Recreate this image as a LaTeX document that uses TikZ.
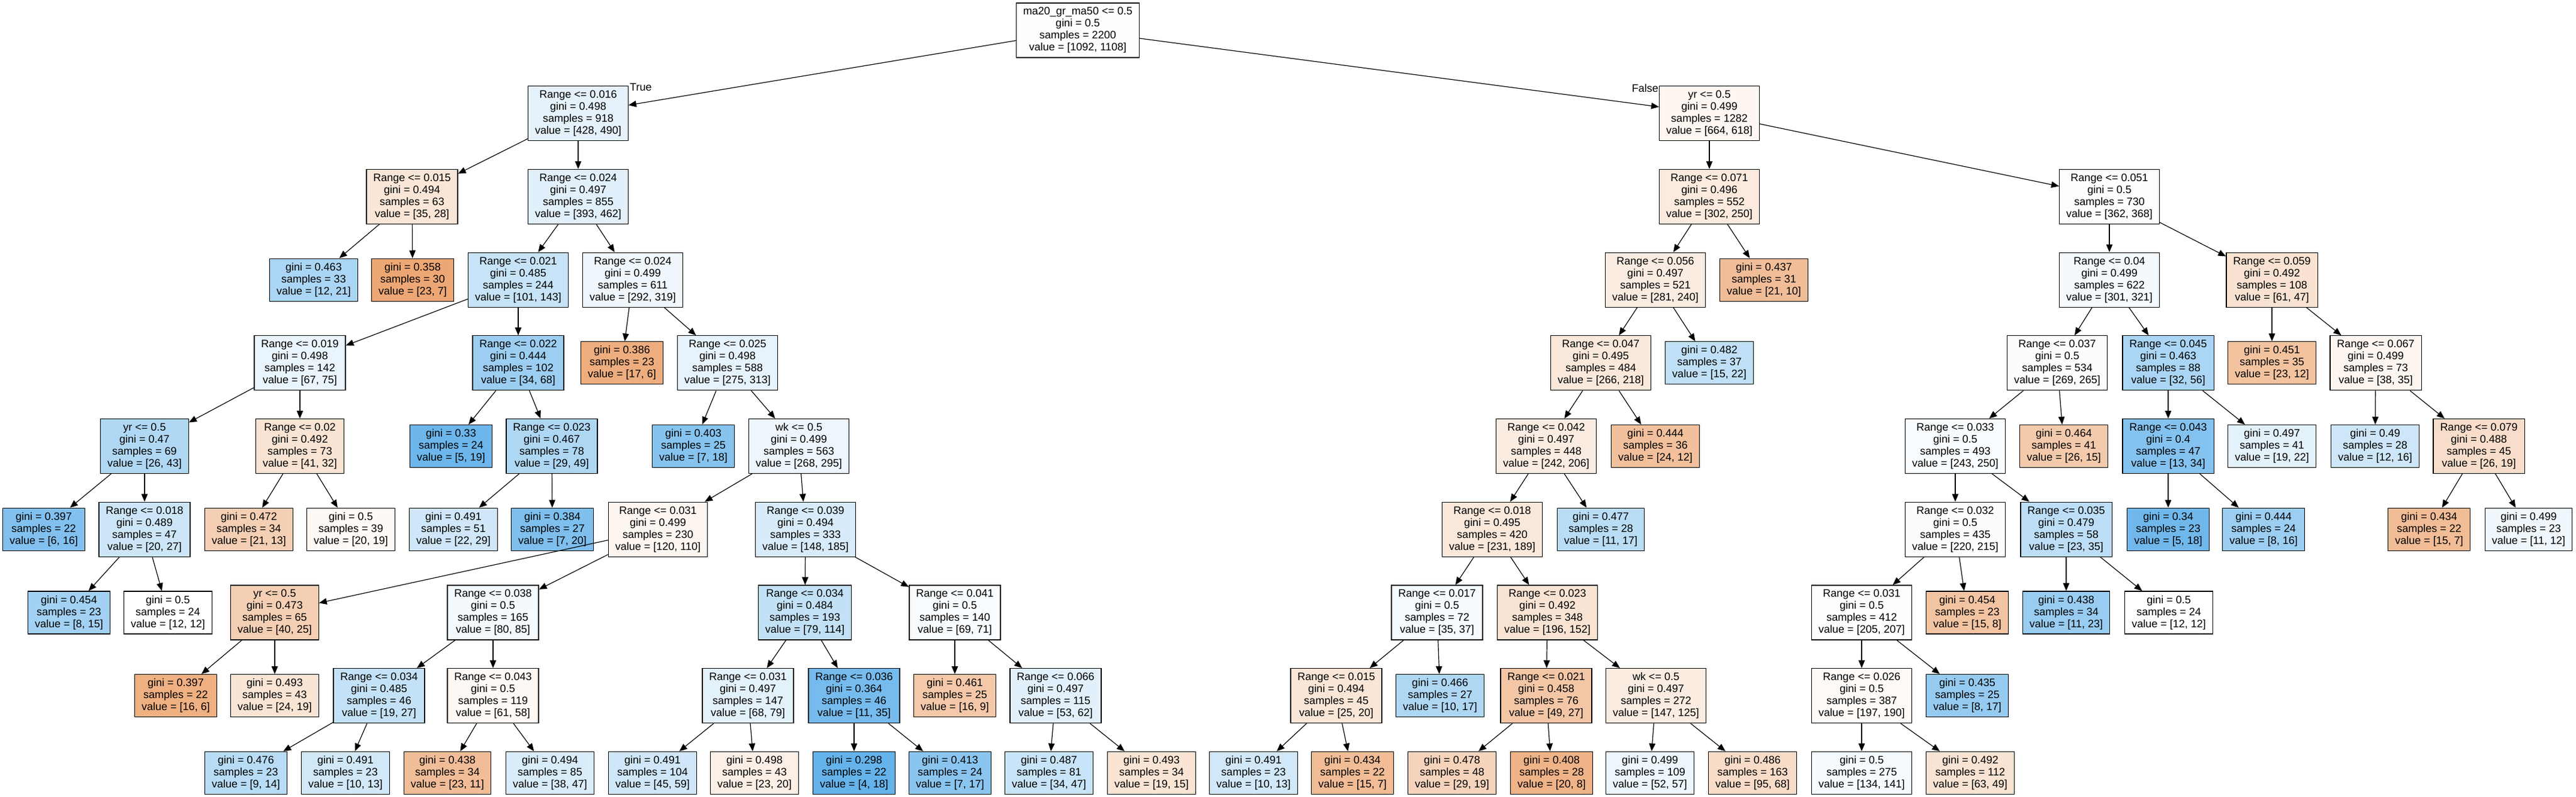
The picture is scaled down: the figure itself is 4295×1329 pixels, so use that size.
\documentclass[tikz,border=0pt]{standalone}
\usepackage{fontspec}
\setmainfont{Liberation Sans}
\usetikzlibrary{arrows.meta}
\definecolor{cO}{RGB}{229,129,57}
\definecolor{cB}{RGB}{57,157,229}
\begin{document}
\begin{tikzpicture}[x=1pt,y=-1pt,
  box/.style={draw=black,line width=1.2pt,align=center,inner xsep=11.5pt,inner ysep=0pt,
    font=\fontsize{18}{20}\selectfont},
  inn/.style={box,minimum height=91pt},
  lf/.style={box,minimum height=71pt},
  edge/.style={line width=1.2pt,-{Triangle[length=13pt,width=10.5pt]}},
  lbl/.style={inner sep=0pt,font=\fontsize{18}{20}\selectfont}]
\fill[white] (0,0) rectangle (4295,1329);
\useasboundingbox (0,0) rectangle (4295,1329);
% row 0
\node[inn,fill=cB!1!white] (root) at (1797,50.5) {ma20\_gr\_ma50 <= 0.5\\gini = 0.5\\samples = 2200\\value = [1092, 1108]};
% row 1
\node[inn,fill=cB!13!white] (A) at (964,189.2) {Range <= 0.016\\gini = 0.498\\samples = 918\\value = [428, 490]};
\node[inn,fill=cO!7!white] (Y) at (2850,189.2) {yr <= 0.5\\gini = 0.499\\samples = 1282\\value = [664, 618]};
% row 2
\node[inn,fill=cO!20!white] (B) at (687,327.9) {Range <= 0.015\\gini = 0.494\\samples = 63\\value = [35, 28]};
\node[inn,fill=cB!15!white] (C) at (964,327.9) {Range <= 0.024\\gini = 0.497\\samples = 855\\value = [393, 462]};
\node[inn,fill=cO!17!white] (Z) at (2850,327.9) {Range <= 0.071\\gini = 0.496\\samples = 552\\value = [302, 250]};
\node[inn,fill=cB!2!white] (AA) at (3517,327.9) {Range <= 0.051\\gini = 0.5\\samples = 730\\value = [362, 368]};
% row 3
\node[lf,fill=cB!43!white] (l1) at (523,466.6) {gini = 0.463\\samples = 33\\value = [12, 21]};
\node[lf,fill=cO!70!white] (l2) at (688,466.6) {gini = 0.358\\samples = 30\\value = [23, 7]};
\node[inn,fill=cB!29!white] (D) at (864,466.6) {Range <= 0.021\\gini = 0.485\\samples = 244\\value = [101, 143]};
\node[inn,fill=cB!8!white] (K) at (1055,466.6) {Range <= 0.024\\gini = 0.499\\samples = 611\\value = [292, 319]};
\node[inn,fill=cO!15!white] (Z1) at (2760,466.6) {Range <= 0.056\\gini = 0.497\\samples = 521\\value = [281, 240]};
\node[lf,fill=cO!52!white] (l3) at (2941,466.6) {gini = 0.437\\samples = 31\\value = [21, 10]};
\node[inn,fill=cB!6!white] (AB) at (3517,466.6) {Range <= 0.04\\gini = 0.499\\samples = 622\\value = [301, 321]};
\node[inn,fill=cO!23!white] (AK) at (3788,466.6) {Range <= 0.059\\gini = 0.492\\samples = 108\\value = [61, 47]};
% row 4
\node[inn,fill=cB!11!white] (E) at (500,605.3) {Range <= 0.019\\gini = 0.498\\samples = 142\\value = [67, 75]};
\node[inn,fill=cB!50!white] (I) at (864,605.3) {Range <= 0.022\\gini = 0.444\\samples = 102\\value = [34, 68]};
\node[lf,fill=cO!65!white] (l4) at (1037,605.3) {gini = 0.386\\samples = 23\\value = [17, 6]};
\node[inn,fill=cB!12!white] (L) at (1213,605.3) {Range <= 0.025\\gini = 0.498\\samples = 588\\value = [275, 313]};
\node[inn,fill=cO!18!white] (Z2) at (2669,605.3) {Range <= 0.047\\gini = 0.495\\samples = 484\\value = [266, 218]};
\node[lf,fill=cB!32!white] (l5) at (2850,605.3) {gini = 0.482\\samples = 37\\value = [15, 22]};
\node[inn,fill=cO!2!white] (AC) at (3430,605.3) {Range <= 0.037\\gini = 0.5\\samples = 534\\value = [269, 265]};
\node[inn,fill=cB!43!white] (AI) at (3615,605.3) {Range <= 0.045\\gini = 0.463\\samples = 88\\value = [32, 56]};
\node[lf,fill=cO!48!white] (l6) at (3788,605.3) {gini = 0.451\\samples = 35\\value = [23, 12]};
\node[inn,fill=cO!8!white] (AL) at (3961,605.3) {Range <= 0.067\\gini = 0.499\\samples = 73\\value = [38, 35]};
% row 5
\node[inn,fill=cB!40!white] (F) at (241,744) {yr <= 0.5\\gini = 0.47\\samples = 69\\value = [26, 43]};
\node[inn,fill=cO!22!white] (H) at (500,744) {Range <= 0.02\\gini = 0.492\\samples = 73\\value = [41, 32]};
\node[lf,fill=cB!74!white] (l7) at (752,744) {gini = 0.33\\samples = 24\\value = [5, 19]};
\node[inn,fill=cB!41!white] (J) at (920,744) {Range <= 0.023\\gini = 0.467\\samples = 78\\value = [29, 49]};
\node[lf,fill=cB!61!white] (l8) at (1156,744) {gini = 0.403\\samples = 25\\value = [7, 18]};
\node[inn,fill=cB!9!white] (M) at (1332,744) {wk <= 0.5\\gini = 0.499\\samples = 563\\value = [268, 295]};
\node[inn,fill=cO!15!white] (Z3) at (2578,744) {Range <= 0.042\\gini = 0.497\\samples = 448\\value = [242, 206]};
\node[lf,fill=cO!50!white] (l9) at (2760,744) {gini = 0.444\\samples = 36\\value = [24, 12]};
\node[inn,fill=cB!3!white] (AD) at (3260,744) {Range <= 0.033\\gini = 0.5\\samples = 493\\value = [243, 250]};
\node[lf,fill=cO!42!white] (l10) at (3441,744) {gini = 0.464\\samples = 41\\value = [26, 15]};
\node[inn,fill=cB!62!white] (AJ) at (3615,744) {Range <= 0.043\\gini = 0.4\\samples = 47\\value = [13, 34]};
\node[lf,fill=cB!14!white] (l11) at (3788,744) {gini = 0.497\\samples = 41\\value = [19, 22]};
\node[lf,fill=cB!25!white] (l12) at (3960,744) {gini = 0.49\\samples = 28\\value = [12, 16]};
\node[inn,fill=cO!27!white] (AM) at (4133,744) {Range <= 0.079\\gini = 0.488\\samples = 45\\value = [26, 19]};
% row 6
\node[lf,fill=cB!63!white] (l13) at (73,882.7) {gini = 0.397\\samples = 22\\value = [6, 16]};
\node[inn,fill=cB!26!white] (G) at (241,882.7) {Range <= 0.018\\gini = 0.489\\samples = 47\\value = [20, 27]};
\node[lf,fill=cO!38!white] (l14) at (415,882.7) {gini = 0.472\\samples = 34\\value = [21, 13]};
\node[lf,fill=cO!5!white] (l15) at (585,882.7) {gini = 0.5\\samples = 39\\value = [20, 19]};
\node[lf,fill=cB!24!white] (l16) at (756,882.7) {gini = 0.491\\samples = 51\\value = [22, 29]};
\node[lf,fill=cB!65!white] (l17) at (921,882.7) {gini = 0.384\\samples = 27\\value = [7, 20]};
\node[inn,fill=cO!8!white] (N) at (1097,882.7) {Range <= 0.031\\gini = 0.499\\samples = 230\\value = [120, 110]};
\node[inn,fill=cB!20!white] (S) at (1343,882.7) {Range <= 0.039\\gini = 0.494\\samples = 333\\value = [148, 185]};
\node[inn,fill=cO!18!white] (Z4) at (2488,882.7) {Range <= 0.018\\gini = 0.495\\samples = 420\\value = [231, 189]};
\node[lf,fill=cB!35!white] (l18) at (2669,882.7) {gini = 0.477\\samples = 28\\value = [11, 17]};
\node[inn,fill=cO!2!white] (AE) at (3260,882.7) {Range <= 0.032\\gini = 0.5\\samples = 435\\value = [220, 215]};
\node[inn,fill=cB!34!white] (AH) at (3445,882.7) {Range <= 0.035\\gini = 0.479\\samples = 58\\value = [23, 35]};
\node[lf,fill=cB!72!white] (l19) at (3615,882.7) {gini = 0.34\\samples = 23\\value = [5, 18]};
\node[lf,fill=cB!50!white] (l20) at (3774,882.7) {gini = 0.444\\samples = 24\\value = [8, 16]};
\node[lf,fill=cO!53!white] (l21) at (4050,882.7) {gini = 0.434\\samples = 22\\value = [15, 7]};
\node[lf,fill=cB!8!white] (l22) at (4216,882.7) {gini = 0.499\\samples = 23\\value = [11, 12]};
% row 7
\node[lf,fill=cB!47!white] (l23) at (115,1021.4) {gini = 0.454\\samples = 23\\value = [8, 15]};
\node[lf,fill=white] (l24) at (280,1021.4) {gini = 0.5\\samples = 24\\value = [12, 12]};
\node[inn,fill=cO!38!white] (O) at (458,1021.4) {yr <= 0.5\\gini = 0.473\\samples = 65\\value = [40, 25]};
\node[inn,fill=cB!6!white] (P) at (822,1021.4) {Range <= 0.038\\gini = 0.5\\samples = 165\\value = [80, 85]};
\node[inn,fill=cB!31!white] (T) at (1342,1021.4) {Range <= 0.034\\gini = 0.484\\samples = 193\\value = [79, 114]};
\node[inn,fill=cB!3!white] (W) at (1592,1021.4) {Range <= 0.041\\gini = 0.5\\samples = 140\\value = [69, 71]};
\node[inn,fill=cB!5!white] (Z5) at (2396,1021.4) {Range <= 0.017\\gini = 0.5\\samples = 72\\value = [35, 37]};
\node[inn,fill=cO!22!white] (Z7) at (2580,1021.4) {Range <= 0.023\\gini = 0.492\\samples = 348\\value = [196, 152]};
\node[inn,fill=cB!1!white] (AF) at (3104,1021.4) {Range <= 0.031\\gini = 0.5\\samples = 412\\value = [205, 207]};
\node[lf,fill=cO!47!white] (l25) at (3280,1021.4) {gini = 0.454\\samples = 23\\value = [15, 8]};
\node[lf,fill=cB!52!white] (l26) at (3445,1021.4) {gini = 0.438\\samples = 34\\value = [11, 23]};
\node[lf,fill=white] (l27) at (3616,1021.4) {gini = 0.5\\samples = 24\\value = [12, 12]};
% row 8
\node[lf,fill=cO!63!white] (l28) at (293,1160.1) {gini = 0.397\\samples = 22\\value = [16, 6]};
\node[lf,fill=cO!21!white] (l29) at (458,1160.1) {gini = 0.493\\samples = 43\\value = [24, 19]};
\node[inn,fill=cB!30!white] (Q) at (632,1160.1) {Range <= 0.034\\gini = 0.485\\samples = 46\\value = [19, 27]};
\node[inn,fill=cO!5!white] (R) at (822,1160.1) {Range <= 0.043\\gini = 0.5\\samples = 119\\value = [61, 58]};
\node[inn,fill=cB!14!white] (U) at (1247,1160.1) {Range <= 0.031\\gini = 0.497\\samples = 147\\value = [68, 79]};
\node[inn,fill=cB!69!white] (V) at (1424,1160.1) {Range <= 0.036\\gini = 0.364\\samples = 46\\value = [11, 35]};
\node[lf,fill=cO!44!white] (l30) at (1592,1160.1) {gini = 0.461\\samples = 25\\value = [16, 9]};
\node[inn,fill=cB!15!white] (X) at (1760,1160.1) {Range <= 0.066\\gini = 0.497\\samples = 115\\value = [53, 62]};
\node[inn,fill=cO!20!white] (Z6) at (2228,1160.1) {Range <= 0.015\\gini = 0.494\\samples = 45\\value = [25, 20]};
\node[lf,fill=cB!41!white] (l31) at (2401,1160.1) {gini = 0.466\\samples = 27\\value = [10, 17]};
\node[inn,fill=cO!45!white] (Z8) at (2578,1160.1) {Range <= 0.021\\gini = 0.458\\samples = 76\\value = [49, 27]};
\node[inn,fill=cO!15!white] (Z9) at (2761,1160.1) {wk <= 0.5\\gini = 0.497\\samples = 272\\value = [147, 125]};
\node[inn,fill=cO!4!white] (AG) at (3104,1160.1) {Range <= 0.026\\gini = 0.5\\samples = 387\\value = [197, 190]};
\node[lf,fill=cB!53!white] (l32) at (3280,1160.1) {gini = 0.435\\samples = 25\\value = [8, 17]};
% row 9
\node[lf,fill=cB!36!white] (l33) at (410,1288.8) {gini = 0.476\\samples = 23\\value = [9, 14]};
\node[lf,fill=cB!23!white] (l34) at (576,1288.8) {gini = 0.491\\samples = 23\\value = [10, 13]};
\node[lf,fill=cO!52!white] (l35) at (746,1288.8) {gini = 0.438\\samples = 34\\value = [23, 11]};
\node[lf,fill=cB!19!white] (l36) at (917,1288.8) {gini = 0.494\\samples = 85\\value = [38, 47]};
\node[lf,fill=cB!24!white] (l37) at (1088,1288.8) {gini = 0.491\\samples = 104\\value = [45, 59]};
\node[lf,fill=cO!13!white] (l38) at (1258,1288.8) {gini = 0.498\\samples = 43\\value = [23, 20]};
\node[lf,fill=cB!78!white] (l39) at (1424,1288.8) {gini = 0.298\\samples = 22\\value = [4, 18]};
\node[lf,fill=cB!59!white] (l40) at (1584,1288.8) {gini = 0.413\\samples = 24\\value = [7, 17]};
\node[lf,fill=cB!28!white] (l41) at (1749,1288.8) {gini = 0.487\\samples = 81\\value = [34, 47]};
\node[lf,fill=cO!21!white] (l42) at (1920,1288.8) {gini = 0.493\\samples = 34\\value = [19, 15]};
\node[lf,fill=cB!23!white] (l43) at (2090,1288.8) {gini = 0.491\\samples = 23\\value = [10, 13]};
\node[lf,fill=cO!53!white] (l44) at (2255,1288.8) {gini = 0.434\\samples = 22\\value = [15, 7]};
\node[lf,fill=cO!34!white] (l45) at (2421,1288.8) {gini = 0.478\\samples = 48\\value = [29, 19]};
\node[lf,fill=cO!60!white] (l46) at (2587,1288.8) {gini = 0.408\\samples = 28\\value = [20, 8]};
\node[lf,fill=cB!9!white] (l47) at (2751,1288.8) {gini = 0.499\\samples = 109\\value = [52, 57]};
\node[lf,fill=cO!28!white] (l48) at (2922,1288.8) {gini = 0.486\\samples = 163\\value = [95, 68]};
\node[lf,fill=cB!5!white] (l49) at (3104,1288.8) {gini = 0.5\\samples = 275\\value = [134, 141]};
\node[lf,fill=cO!22!white] (l50) at (3285,1288.8) {gini = 0.492\\samples = 112\\value = [63, 49]};
% labels
\node[lbl,anchor=base west] (tl) at (1050,152) {True};
\node[lbl,anchor=base east] (fl) at (2765,154) {False};
% edges
\foreach \p/\c in {root/A,root/Y,A/B,A/C,B/l1,B/l2,C/D,C/K,D/E,D/I,K/l4,K/L,
  E/F,E/H,I/l7,I/J,L/l8,L/M,F/l13,F/G,H/l14,H/l15,J/l16,J/l17,M/N,M/S,
  G/l23,G/l24,N/O,N/P,S/T,S/W,O/l28,O/l29,P/Q,P/R,T/U,T/V,W/l30,W/X,
  Q/l33,Q/l34,R/l35,R/l36,U/l37,U/l38,V/l39,V/l40,X/l41,X/l42,
  Y/Z,Y/AA,Z/Z1,Z/l3,Z1/Z2,Z1/l5,Z2/Z3,Z2/l9,Z3/Z4,Z3/l18,Z4/Z5,Z4/Z7,
  Z5/Z6,Z5/l31,Z6/l43,Z6/l44,Z7/Z8,Z7/Z9,Z8/l45,Z8/l46,Z9/l47,Z9/l48,
  AA/AB,AA/AK,AB/AC,AB/AI,AK/l6,AK/AL,AC/AD,AC/l10,AI/AJ,AI/l11,AL/l12,AL/AM,
  AD/AE,AD/AH,AJ/l19,AJ/l20,AM/l21,AM/l22,AE/AF,AE/l25,AH/l26,AH/l27,
  AF/AG,AF/l32,AG/l49,AG/l50}
  \draw[edge] (\p) -- (\c);
\end{tikzpicture}
\end{document}
